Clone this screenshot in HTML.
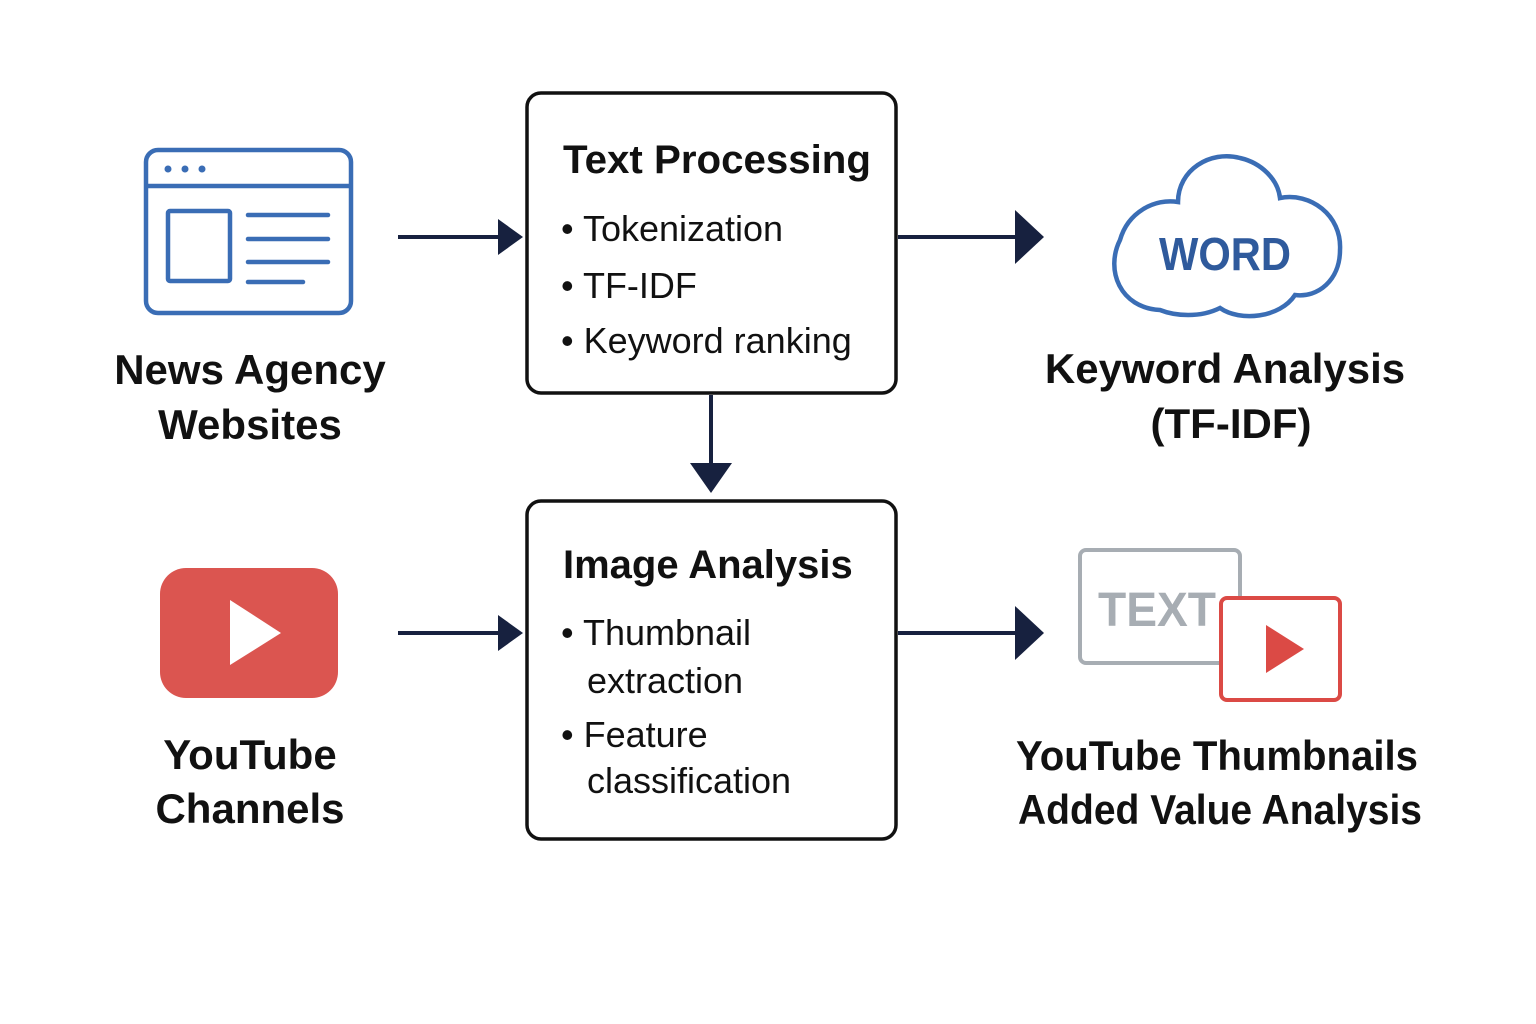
<!DOCTYPE html>
<html><head><meta charset="utf-8"><style>
html,body{margin:0;padding:0;background:#fff;}
svg{display:block;}
text{font-family:"Liberation Sans",sans-serif;fill:#111;}
.t{font-weight:bold;font-size:42px;text-anchor:middle;}
.h{font-weight:bold;font-size:40px;}
.b{font-size:36px;}
</style></head><body>
<svg width="1536" height="1024" viewBox="0 0 1536 1024" xmlns="http://www.w3.org/2000/svg">
<g fill="none" stroke="#3a6db5" stroke-width="4.5">
<rect x="146" y="150" width="205" height="163" rx="12"/>
<line x1="146" y1="186" x2="351" y2="186"/>
<rect x="168" y="211" width="62" height="70" rx="2"/>
<g stroke-linecap="round"><line x1="248" y1="215" x2="328" y2="215"/><line x1="248" y1="239" x2="328" y2="239"/><line x1="248" y1="262" x2="328" y2="262"/><line x1="248" y1="282" x2="303" y2="282"/></g>
</g>
<g fill="#3a6db5"><circle cx="168" cy="169" r="3.5"/><circle cx="185" cy="169" r="3.5"/><circle cx="202" cy="169" r="3.5"/></g>
<text class="t" x="250" y="384">News Agency</text>
<text class="t" x="250" y="439">Websites</text>

<g stroke="#17213f" stroke-width="4" fill="#17213f">
<line x1="398" y1="237" x2="500" y2="237"/><polygon points="498,219 523,237 498,255" stroke="none"/>
<line x1="898" y1="237" x2="1018" y2="237"/><polygon points="1015,210 1044,237 1015,264" stroke="none"/>
<line x1="711" y1="395" x2="711" y2="466"/><polygon points="690,463 711,493 732,463" stroke="none"/>
<line x1="398" y1="633" x2="500" y2="633"/><polygon points="498,615 523,633 498,651" stroke="none"/>
<line x1="898" y1="633" x2="1018" y2="633"/><polygon points="1015,606 1044,633 1015,660" stroke="none"/>
</g>

<rect x="527" y="93" width="369" height="300" rx="14" fill="#fff" stroke="#111" stroke-width="3.5"/>
<text class="h" x="563" y="173" textLength="308" lengthAdjust="spacingAndGlyphs">Text Processing</text>
<text class="b" x="561" y="241">• Tokenization</text>
<text class="b" x="561" y="298">• TF-IDF</text>
<text class="b" x="561" y="353">• Keyword ranking</text>

<rect x="527" y="501" width="369" height="338" rx="14" fill="#fff" stroke="#111" stroke-width="3.5"/>
<text class="h" x="563" y="578">Image Analysis</text>
<text class="b" x="561" y="645">• Thumbnail</text>
<text class="b" x="587" y="693">extraction</text>
<text class="b" x="561" y="747">• Feature</text>
<text class="b" x="587" y="793">classification</text>

<path d="M1160,310 C1120,308 1105,270 1120,240 C1128,212 1155,198 1178,202 C1178,170 1210,150 1240,158 C1262,163 1278,180 1280,198 C1310,192 1342,215 1340,250 C1340,280 1318,298 1295,295 C1280,318 1240,322 1220,308 C1200,318 1175,316 1160,310 Z" fill="#fff" stroke="#3a6db5" stroke-width="4.5"/>
<text x="1225" y="270" text-anchor="middle" textLength="132" lengthAdjust="spacingAndGlyphs" style="font-weight:bold;font-size:46px;fill:#2f5a9c;">WORD</text>
<text class="t" x="1225" y="383">Keyword Analysis</text>
<text class="t" x="1231" y="438">(TF-IDF)</text>

<rect x="160" y="568" width="178" height="130" rx="26" fill="#db5550"/>
<polygon points="230,600 281,633 230,665" fill="#fff"/>
<text class="t" x="250" y="769">YouTube</text>
<text class="t" x="250" y="823">Channels</text>

<rect x="1080" y="550" width="160" height="113" rx="6" fill="#fff" stroke="#a7adb3" stroke-width="4"/>
<text x="1098" y="626" textLength="118" lengthAdjust="spacingAndGlyphs" style="font-weight:bold;font-size:48px;fill:#a7adb3;">TEXT</text>
<rect x="1221" y="598" width="119" height="102" rx="6" fill="#fff" stroke="#db4a45" stroke-width="4"/>
<polygon points="1266,625 1304,649 1266,673" fill="#db4a45"/>
<text class="t" x="1217" y="770" textLength="402" lengthAdjust="spacingAndGlyphs">YouTube Thumbnails</text>
<text class="t" x="1220" y="824" textLength="404" lengthAdjust="spacingAndGlyphs">Added Value Analysis</text>
</svg>
</body></html>
